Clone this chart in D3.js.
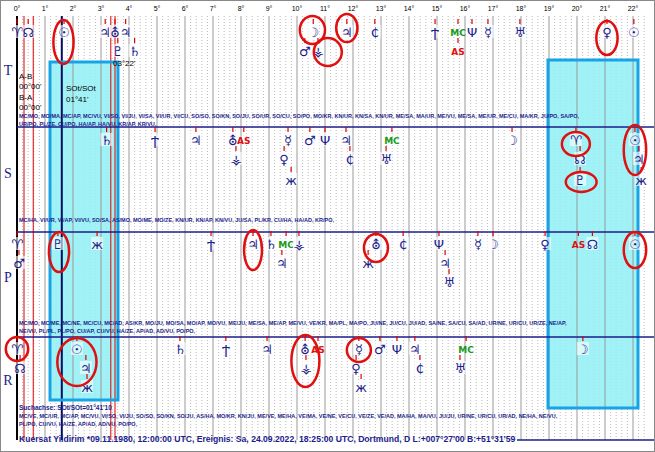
<!DOCTYPE html>
<html><head><meta charset="utf-8">
<script src="https://cdn.jsdelivr.net/npm/d3@7"></script>
<style>body{margin:0;background:#fff}svg{display:block}</style></head>
<body><svg id="c" width="655" height="452"></svg>
<script>
const degTicks = d3.range(0,23);
const rows = ["T","S","P","R"];
// [row, degree, line, glyph]
const T = [[0,0.0,0,"♈"],[0,0.4,0,"☊"],[0,1.68,0,"☉"],[0,3.15,0,"♃"],[0,3.5,0,"⛢"],[0,3.88,0,"♃"],[0,3.6,1,"♇"],[0,4.2,1,"♄"],[0,10.58,0,"☽"],[0,10.28,1,"♂"],[0,10.75,1,"⚶"],[0,11.78,0,"♃"],[0,12.78,0,"₵"],[0,14.93,0,"Ϯ"],[0,15.75,0,"MC"],[0,15.75,1,"AS"],[0,16.25,0,"Ψ"],[0,16.82,0,"☿"],[0,17.96,0,"♅"],[0,21.07,0,"♀"],[0,22.03,0,"☉"]];
const S = [[1,3.2,0,"♄"],[1,4.93,0,"Ϯ"],[1,6.39,0,"♃"],[1,7.71,0,"⛢"],[1,8.1,0,"AS"],[1,7.82,1,"⚶"],[1,9.68,0,"☿"],[1,9.54,1,"♀"],[1,9.79,2,"ж"],[1,10.46,0,"♂"],[1,11.0,0,"Ψ"],[1,11.75,0,"♃"],[1,11.89,1,"₵"],[1,13.39,0,"MC"],[1,13.18,1,"♅"],[1,17.68,0,"☽"],[1,19.96,0,"♈"],[1,20.11,1,"☊"],[1,20.11,2,"♇"],[1,22.07,0,"☉"],[1,22.21,1,"♃"],[1,22.29,2,"ж"]];
const P = [[2,0.0,0,"♈"],[2,0.07,1,"♂"],[2,1.46,0,"♇"],[2,2.86,0,"ж"],[2,6.93,0,"Ϯ"],[2,8.43,0,"♃"],[2,9.07,0,"♄"],[2,9.61,0,"MC"],[2,10.07,0,"⚶"],[2,9.46,1,"♃"],[2,12.82,0,"⛢"],[2,12.54,1,"ж"],[2,13.79,0,"₵"],[2,15.07,0,"Ψ"],[2,15.29,1,"♃"],[2,15.43,2,"♅"],[2,16.46,0,"☿"],[2,17.0,0,"☽"],[2,18.86,0,"♀"],[2,20.05,0,"AS"],[2,20.55,0,"☊"],[2,22.07,0,"☉"]];
const R = [[3,0.0,0,"♈"],[3,0.11,1,"☊"],[3,2.14,0,"☉"],[3,2.46,1,"♃"],[3,2.5,2,"ж"],[3,5.82,0,"♄"],[3,7.46,0,"Ϯ"],[3,8.93,0,"♃"],[3,10.29,0,"⛢"],[3,10.75,0,"AS"],[3,10.32,1,"⚶"],[3,12.21,0,"☿"],[3,12.11,1,"♀"],[3,12.29,2,"ж"],[3,12.96,0,"♂"],[3,13.57,0,"Ψ"],[3,14.21,0,"♃"],[3,14.39,1,"₵"],[3,16.04,0,"MC"],[3,15.82,1,"♅"],[3,20.21,0,"☽"]];
const glyphs = T.concat(S,P,R);
// red ellipses: [centre degree, row, half-width in degrees, ry, cy]
const circles = [[1.66,0,0.36,22,42],[10.55,0,0.45,14,30],[11.1,0,0.5,14,52],[11.78,0,0.38,14,28],[21.07,0,0.38,17,38],
 [19.96,1,0.5,12,144],[20.15,1,0.55,10,182],[22.07,1,0.4,25,150],
 [1.5,2,0.36,20,252],[8.43,2,0.32,20,250],[12.82,2,0.43,14,248],[22.07,2,0.4,18,250],
 [0.0,3,0.4,12,349],[2.14,3,0.7,24,362],[10.3,3,0.5,26,361],[12.21,3,0.43,12,350]];
const asp = [
 ["MC/MO, MO/MA, MC/AP, MC/VU, VI/SO, VI/JU, VI/SA, VI/UR, VI/CU, SO/SO, SO/KN, SO/JU, SO/UR, SO/CU, SO/PO, MO/KR, KN/UR, KN/SA, KN/UR, ME/SA, MA/UR, ME/VU, ME/SA, ME/UR, ME/CU, MA/KR, JU/PO, SA/PO,","UR/PO, PL/ZE, CU/PO, HA/AP, HA/VU, KR/AP, KR/VU,"],
 ["MC/HA, VI/UR, VI/AP, VI/VU, SO/SA, AS/MO, MO/ME, MO/ZE, KN/UR, KN/AP, KN/VU, JU/SA, PL/KR, CU/HA, HA/AD, KR/PO,"],
 ["MC/MO, MC/ME, MC/NE, MC/CU, MC/AD, AS/KR, MO/JU, MO/SA, MO/AP, MO/VU, ME/JU, ME/SA, ME/AP, ME/VU, VE/KR, MA/PL, MA/PO, JU/NE, JU/CU, JU/AD, SA/NE, SA/CU, SA/AD, UR/NE, UR/CU, UR/ZE, NE/AP,","NE/VU, PL/PL, PL/PO, CU/AP, CU/VU, HA/ZE, AP/AD, AD/VU, PO/PO,"],
 ["MC/VE, MC/UR, MC/AP, MC/VU, VI/SO, VI/JU, SO/SO, SO/KN, SO/JU, AS/HA, MO/KR, KN/JU, ME/VE, ME/HA, VE/MA, VE/NE, VE/CU, VE/ZE, VE/AD, MA/HA, MA/VU, JU/JU, UR/NE, UR/CU, UR/AD, NE/HA, NE/VU,","PL/PO, CU/VU, HA/ZE, AP/AD, AD/VU, PO/PO,"]];
const aspY = [118,222,325,418];

const svg = d3.select("#c");
const x = d3.scaleLinear().domain([0,22]).range([17,633]);
const lineY = [[33,52,70],[141,160,181],[245,264,283],[350,369,388]];
const navy="#1c1c8c";

svg.append("g").selectAll("line").data(d3.range(0,22.6,0.2).filter(d=>Math.abs(d-Math.round(d))>0.01))
 .join("line").attr("x1",x).attr("x2",x).attr("y1",16).attr("y2",440)
 .attr("stroke","#aaa").attr("stroke-width",0.8).attr("stroke-dasharray","1,2");
[[50,118,62,400],[548,638,60,408]].forEach(b=>svg.append("rect").attr("x",b[0]).attr("y",b[2]).attr("width",b[1]-b[0]).attr("height",b[3]-b[2]).attr("fill","#8ff0f4").attr("fill-opacity",0.85));
svg.append("g").selectAll("line").data(degTicks).join("line").attr("x1",x).attr("x2",x).attr("y1",16).attr("y2",440).attr("stroke","#999").attr("stroke-width",1);
svg.append("g").selectAll("text").data(degTicks).join("text").attr("x",x).attr("y",11).attr("text-anchor","middle")
 .attr("font-family","Arial").attr("font-size",7).text(d=>d+"°");
[[0.25,"#d00"],[3.35,"#d00"],[3.5,"#d00"],[0.58,"#d00"]].forEach(v=>svg.append("line").attr("x1",x(v[0])).attr("x2",x(v[0])).attr("y1",16).attr("y2",440).attr("stroke",v[1]).attr("stroke-width",1));
svg.append("line").attr("x1",x(1.6)).attr("x2",x(1.6)).attr("y1",16).attr("y2",440).attr("stroke","#001060").attr("stroke-width",2);
svg.append("line").attr("x1",17).attr("x2",17).attr("y1",16).attr("y2",440).attr("stroke","#000").attr("stroke-width",2);
[[50,118,62,400],[548,638,60,408]].forEach(b=>svg.append("rect").attr("x",b[0]).attr("y",b[2]).attr("width",b[1]-b[0]).attr("height",b[3]-b[2]).attr("fill","none").attr("stroke","#17a4e6").attr("stroke-width",3));
[127,232,337].forEach(y=>svg.append("line").attr("x1",17).attr("x2",655).attr("y1",y).attr("y2",y).attr("stroke",navy).attr("stroke-width",1.5));
svg.append("line").attr("x1",517).attr("x2",655).attr("y1",440).attr("y2",440).attr("stroke",navy).attr("stroke-width",1.5);
svg.append("rect").attr("x",0.5).attr("y",0.5).attr("width",654).attr("height",451).attr("fill","none").attr("stroke","#888");
[75,178,282,385].forEach((y,i)=>svg.append("text").attr("x",8).attr("y",y).attr("text-anchor","middle").attr("font-family","Liberation Serif").attr("font-size",14).attr("fill",navy).text(rows[i]));
const g = svg.append("g").selectAll("g").data(glyphs).join("g").attr("transform",d=>`translate(${x(d[1])},${lineY[d[0]][d[2]]})`);
g.append("line").attr("y1",-14).attr("y2",-9).attr("stroke","#d00").attr("stroke-width",1.2);
g.append("rect").attr("x",-6).attr("y",-8).attr("width",12).attr("height",13).attr("fill","#fff").attr("fill-opacity",d=>d[3]=="AS"||d[3]=="MC"?0:0.6);
g.append("text").attr("y",d=>d[3].length>1?3:4).attr("text-anchor","middle")
 .attr("font-family","DejaVu Sans").attr("font-weight",d=>d[3].length>1?"bold":"normal")
 .attr("font-size",d=>d[3].length>1?9:13)
 .attr("fill",d=>d[3]=="AS"?"#e01010":d[3]=="MC"?"#1a9a1a":navy).text(d=>d[3]);
svg.append("g").selectAll("ellipse").data(circles).join("ellipse").attr("cx",d=>x(d[0])).attr("cy",d=>d[4])
 .attr("rx",d=>d[2]*28).attr("ry",d=>d[3]).attr("fill","none").attr("stroke","#e01010").attr("stroke-width",2.5);
const tx=(s,xx,y,sz,opt={})=>svg.append("text").attr("x",xx).attr("y",y).attr("font-family",opt.f||"Arial").attr("font-size",sz).attr("font-weight",opt.w||"normal").attr("fill",opt.c||"#000").text(s);
tx("A-B",19,79,8);tx("00°00'",19,89,8);tx("B-A",19,100,8);tx("00°00'",19,110,8);
tx("SOt/SOt",66,91,8);tx("01°41'",66,102,8);tx("03°22'",113,66,8);
asp.forEach((a,i)=>a.forEach((s,j)=>tx(s,19,aspY[i]+j*7.5,5.5,{w:"bold",c:navy})));
tx("Suchachse: SOt/SOt=01°41'10",19,410,6.5,{w:"bold",c:navy});
tx("Kuersat Yildirim  *09.11.1980, 12:00:00 UTC, Ereignis: Sa, 24.09.2022, 18:25:00 UTC, Dortmund, D     L:+007°27'00 B:+51°31'59",19,442,8.6,{w:"bold",c:navy});
</script></body></html>
